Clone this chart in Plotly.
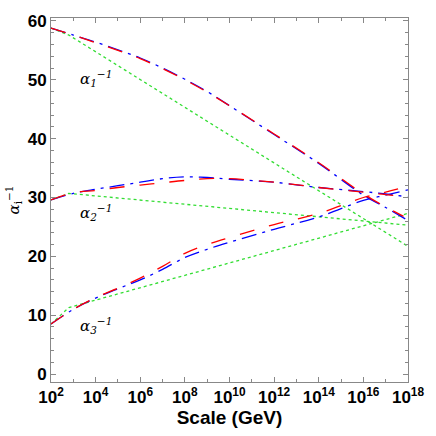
import plotly.graph_objects as go

# log10(scale / GeV)
logs = [2, 3, 4, 5, 6, 7, 8, 9, 10, 12, 14, 16, 17, 18]

# green dotted (SM)
sm_logs = [2, 2.8, 18]
sm_a1 = [58.8, 57.6, 21.7]
sm_a2 = [29.6, 30.7, 25.3]
sm_a3 = [8.5, 11.3, 27.3]

# blue dash-dot
blue_a1 = [58.8, 57.6, 56.4, 55.1, 53.7, 52.0, 50.1, 48.0, 45.6, 40.7, 35.8, 30.4, 28.3, 26.1]
blue_a2 = [29.6, 30.7, 31.4, 32.0, 32.6, 33.2, 33.5, 33.4, 33.1, 32.6, 31.7, 31.0, 30.6, 30.1]
blue_a3 = [8.5, 11.0, 12.9, 14.5, 16.0, 17.8, 19.8, 21.2, 22.4, 24.6, 26.7, 29.5, 30.4, 31.3]

# red dashed
red_logs = [2, 3, 4, 5, 6, 7, 8, 9, 10, 12, 14, 16, 17, 17.8]
red_a1 = [58.8, 57.6, 56.3, 55.0, 53.6, 51.9, 50.0, 47.9, 45.6, 40.8, 35.9, 30.6, 28.4, 26.8]
red_a2 = [29.6, 30.8, 31.2, 31.7, 32.1, 32.5, 32.9, 33.2, 33.2, 32.6, 31.7, 30.9, 30.5, 30.2]
red_a3 = [8.5, 11.0, 13.0, 14.6, 16.3, 18.3, 20.5, 22.0, 23.2, 25.4, 27.3, 30.0, 30.9, 31.7]

labels = ["α<sub>1</sub><sup>−1</sup>", "α<sub>2</sub><sup>−1</sup>", "α<sub>3</sub><sup>−1</sup>"]
label_y = [50.3, 27.4, 8.2]

fig = go.Figure()
for ys in [sm_a1, sm_a2, sm_a3]:
    fig.add_trace(go.Scatter(x=[10**v for v in sm_logs], y=ys, mode="lines",
                             line=dict(color="#33dd33", width=1.3, dash="dot")))
for ys in [blue_a1, blue_a2, blue_a3]:
    fig.add_trace(go.Scatter(x=[10**v for v in logs], y=ys, mode="lines", line_shape="spline",
                             line=dict(color="blue", width=1.3, dash="longdashdot")))
for ys in [red_a1, red_a2, red_a3]:
    fig.add_trace(go.Scatter(x=[10**v for v in red_logs], y=ys, mode="lines", line_shape="spline",
                             line=dict(color="red", width=1.3, dash="longdash")))

for t, y in zip(labels, label_y):
    fig.add_annotation(x=4.0, y=y, text="<i>" + t + "</i>", showarrow=False, xanchor="center",
                       font=dict(family="DejaVu Serif", size=15, color="black"))

tv = [10**e for e in range(2, 19, 2)]
fig.update_layout(
    width=436, height=436, showlegend=False,
    plot_bgcolor="white", paper_bgcolor="white",
    margin=dict(l=51, r=18, t=15, b=54),
    font=dict(family="Liberation Sans", size=16, color="black"),
    xaxis=dict(type="log", range=[2, 18], tickvals=tv,
               ticktext=[f"<b>10<sup>{e}</sup></b>" for e in range(2, 19, 2)],
               tickfont=dict(size=17), ticklabeloverflow="allow",
               ticks="inside", ticklen=5, tickcolor="#888", mirror="allticks",
               showline=True, linecolor="#888", showgrid=False, zeroline=False,
               minor=dict(tickvals=[10**e for e in range(3, 18, 2)], ticks="inside", ticklen=3, tickcolor="#888"),
               title=dict(text="<b>Scale (GeV)</b>", standoff=2)),
    yaxis=dict(range=[-1.35, 60.5], tickvals=[0, 10, 20, 30, 40, 50, 60],
               ticktext=[f"<b>{v}</b>" for v in range(0, 61, 10)],
               tickfont=dict(size=17),
               ticks="inside", ticklen=5, tickcolor="#888", mirror="allticks",
               showline=True, linecolor="#888", showgrid=False, zeroline=False,
               minor=dict(dtick=2, ticks="inside", ticklen=3, tickcolor="#888"),
               title=dict(text="<i>α</i><sub>i</sub><sup>−1</sup>", standoff=4,
                          font=dict(family="DejaVu Serif", size=15))),
)
fig.write_html("out.html", config={"displayModeBar": False},
               post_script="document.body.style.margin='0';")
